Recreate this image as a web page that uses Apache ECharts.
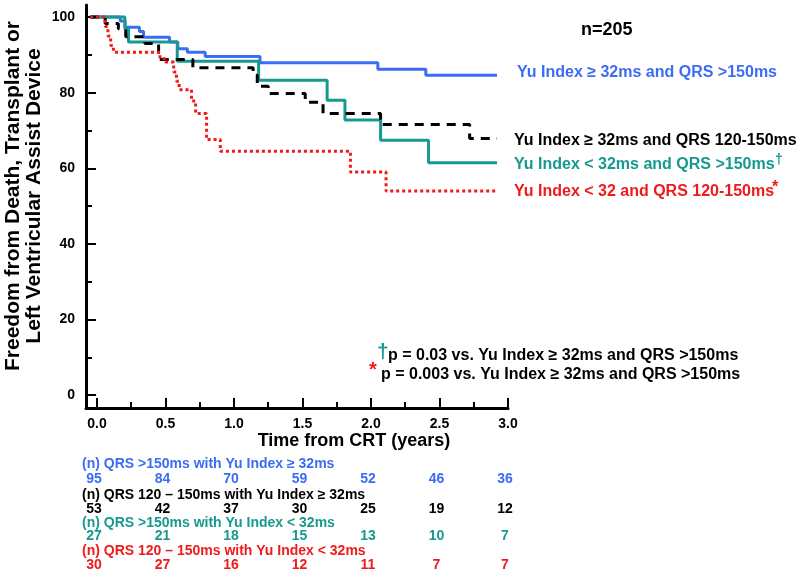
<!DOCTYPE html>
<html><head><meta charset="utf-8">
<script src="https://cdn.jsdelivr.net/npm/echarts@6/dist/echarts.min.js"></script>
<style>html,body{margin:0;padding:0;background:#fff}#c{width:800px;height:575px}</style>
</head><body><div id="c"></div>
<script>
const FONT = '"Liberation Sans", Arial, Helvetica, sans-serif';
const BLUE = '#3b6cf4', TEAL = '#17998f', RED = '#f01a1a', BLACK = '#000000';

// Kaplan-Meier step data (time in years, % free from event)
const blueTimes  = [-0.05, 0.17, 0.205, 0.31, 0.34, 0.53, 0.59, 0.66, 0.79, 1.19, 2.05, 2.40, 2.92];
const blueSurv   = [100, 99.0, 97.3, 96.2, 94.7, 93.4, 91.6, 90.7, 89.6, 87.9, 86.2, 84.6, 84.6];
const tealTimes  = [-0.05, 0.204, 0.23, 0.586, 1.18, 1.68, 1.81, 2.07, 2.42, 2.92];
const tealSurv   = [100, 96.9, 93.4, 88.3, 83.3, 78.0, 72.8, 67.4, 61.5, 61.5];
const blackTimes = [-0.05, 0.06, 0.156, 0.21, 0.35, 0.45, 0.70, 1.14, 1.17, 1.25, 1.52, 1.65, 2.07, 2.72, 2.92];
const blackSurv  = [100, 98.3, 96.9, 94.8, 93.0, 88.8, 86.6, 84.6, 81.7, 79.8, 77.5, 74.5, 71.6, 67.9, 67.9];
const redTimes   = [-0.05, 0.06, 0.08, 0.10, 0.12, 0.46, 0.50, 0.56, 0.58, 0.60, 0.69, 0.72, 0.80, 0.90, 1.85, 2.11, 2.92];
const redSurv    = [100, 97.5, 95.0, 92.5, 90.7, 89.0, 88.1, 85.5, 83.0, 80.8, 77.8, 74.5, 67.6, 64.5, 59.0, 54.0, 54.0];

// Number at risk
const riskTimes = [0, 0.5, 1.0, 1.5, 2.0, 2.5, 3.0];
const riskBlue  = [95, 84, 70, 59, 52, 46, 36];
const riskBlack = [53, 42, 37, 30, 25, 19, 12];
const riskTeal  = [27, 21, 18, 15, 13, 10, 7];
const riskRed   = [30, 27, 16, 12, 11, 7, 7];

// Ticks
const xMajorTicks = [0, 0.5, 1.0, 1.5, 2.0, 2.5, 3.0];
const xMinorTicks = [0.25, 0.75, 1.25, 1.75, 2.25, 2.75];
const yMajorTicks = [0, 20, 40, 60, 80, 100];
const yMinorTicks = [10, 30, 50, 70, 90];

const pairs = (ts, vs) => ts.map((t, i) => [t, vs[i]]);
const X_MIN = -0.08, X_MAX = 3.0, Y_MIN = -3.4, Y_MAX = 103.2;

const chart = echarts.init(document.getElementById('c'), null, {renderer: 'canvas'});

function txt(x, y, text, color, size, align, extra) {
  return Object.assign({
    type: 'text', x: x, y: y, z: 100,
    style: {
      text: text, fill: color, font: 'bold ' + size + 'px ' + FONT,
      textAlign: align || 'left', textVerticalAlign: 'middle',
      align: align || 'left', verticalAlign: 'middle'
    }
  }, extra || {});
}

const axisTxt = {color: BLACK, fontWeight: 'bold', fontSize: 14, fontFamily: FONT};

const option = {
  animation: false,
  backgroundColor: '#ffffff',
  grid: {left: 86, right: 292, top: 5, bottom: 167, containLabel: false},
  xAxis: [
    {type: 'value', min: X_MIN, max: X_MAX, position: 'bottom',
     axisLine: {show: true, onZero: false, lineStyle: {color: BLACK, width: 3}},
     axisTick: {show: true, inside: true, length: 10, customValues: xMajorTicks, lineStyle: {color: BLACK, width: 2}},
     axisLabel: {show: true, customValues: xMajorTicks, margin: 9, formatter: v => Number(v).toFixed(1), ...axisTxt},
     splitLine: {show: false}},
    {type: 'value', min: X_MIN, max: X_MAX, position: 'bottom', offset: 0,
     axisLine: {show: false, onZero: false},
     axisTick: {show: true, inside: true, length: 6, customValues: xMinorTicks, lineStyle: {color: BLACK, width: 2}},
     axisLabel: {show: false}, splitLine: {show: false}}
  ],
  yAxis: [
    {type: 'value', min: Y_MIN, max: Y_MAX, position: 'left',
     axisLine: {show: true, onZero: false, lineStyle: {color: BLACK, width: 3}},
     axisTick: {show: true, inside: true, length: 10, customValues: yMajorTicks, lineStyle: {color: BLACK, width: 2}},
     axisLabel: {show: true, customValues: yMajorTicks, margin: 11, ...axisTxt},
     splitLine: {show: false}},
    {type: 'value', min: Y_MIN, max: Y_MAX, position: 'left', offset: 0,
     axisLine: {show: false, onZero: false},
     axisTick: {show: true, inside: true, length: 6, customValues: yMinorTicks, lineStyle: {color: BLACK, width: 2}},
     axisLabel: {show: false}, splitLine: {show: false}}
  ],
  series: [
    {name: 'blue', type: 'line', step: 'end', data: pairs(blueTimes, blueSurv), symbol: 'none', z: 2,
     lineStyle: {color: BLUE, width: 3}},
    {name: 'teal', type: 'line', step: 'end', data: pairs(tealTimes, tealSurv), symbol: 'none', z: 3,
     lineStyle: {color: TEAL, width: 3}},
    {name: 'black', type: 'line', step: 'end', data: pairs(blackTimes, blackSurv), symbol: 'none', z: 4,
     lineStyle: {color: BLACK, width: 3, type: [9, 7]}},
    {name: 'red', type: 'line', step: 'end', data: pairs(redTimes, redSurv), symbol: 'none', z: 5,
     lineStyle: {color: RED, width: 3, type: [3, 3]}}
  ]
};
chart.setOption(option);

const gfx = [];
// Axis titles
gfx.push(txt(354, 441, 'Time from CRT (years)', BLACK, 18, 'center'));
gfx.push({type: 'text', x: 24, y: 196, rotation: Math.PI / 2, z: 100,
  style: {text: 'Freedom from Death, Transplant or\nLeft Ventricular Assist Device', fill: BLACK,
    font: 'bold 21px ' + FONT, lineHeight: 21,
    textAlign: 'center', textVerticalAlign: 'middle', align: 'center', verticalAlign: 'middle'}});
// n
gfx.push(txt(581, 30, 'n=205', BLACK, 18, 'left'));
// Curve labels
gfx.push(txt(517, 73, 'Yu Index \u2265 32ms and QRS >150ms', BLUE, 16));
gfx.push(txt(514, 141, 'Yu Index \u2265 32ms and QRS 120-150ms', BLACK, 16));
gfx.push(txt(514, 165, 'Yu Index < 32ms and QRS >150ms', TEAL, 16));
gfx.push(txt(775, 160, '\u2020', TEAL, 14));
gfx.push(txt(514, 192, 'Yu Index < 32 and QRS 120-150ms', RED, 16));
gfx.push(txt(772, 188, '*', RED, 16));
// Footnotes
gfx.push(txt(377, 352, '\u2020', TEAL, 21));
gfx.push(txt(388, 356, 'p = 0.03 vs. Yu Index \u2265 32ms and QRS >150ms', BLACK, 16));
gfx.push(txt(369, 370, '*', RED, 20));
gfx.push(txt(381, 375, 'p = 0.003 vs. Yu Index \u2265 32ms and QRS >150ms', BLACK, 16));
// Number at risk table
const rows = [
  {head: '(n) QRS >150ms with Yu Index \u2265 32ms', color: BLUE, vals: riskBlue, hy: 464, ny: 479},
  {head: '(n) QRS 120 \u2013 150ms with Yu Index \u2265 32ms', color: BLACK, vals: riskBlack, hy: 495, ny: 509},
  {head: '(n) QRS >150ms with Yu Index < 32ms', color: TEAL, vals: riskTeal, hy: 523, ny: 536},
  {head: '(n) QRS 120 \u2013 150ms with Yu Index < 32ms', color: RED, vals: riskRed, hy: 551, ny: 565}
];
rows.forEach(r => {
  gfx.push(txt(82, r.hy, r.head, r.color, 14));
  r.vals.forEach((v, i) => {
    const px = chart.convertToPixel({xAxisIndex: 0}, riskTimes[i]);
    gfx.push(txt(px - 3, r.ny, String(v), r.color, 14, 'center'));
  });
});
chart.setOption({graphic: {elements: gfx}});
</script>
</body></html>
